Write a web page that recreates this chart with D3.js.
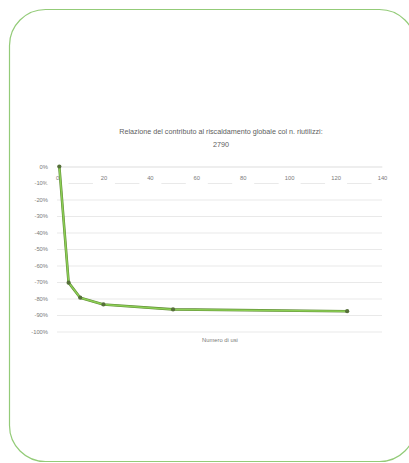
<!DOCTYPE html>
<html>
<head>
<meta charset="utf-8">
<script src="https://cdn.jsdelivr.net/npm/d3@7"></script>
<style>
  body { margin: 0; background: #fff; }
  svg { display: block; font-family: "Liberation Sans", Arial, sans-serif; }
</style>
</head>
<body>
<div id="chart"></div>
<script>
// data
const titleLines = ["Relazione del contributo al riscaldamento globale col n. riutilizzi:", "2790"];
const xLabel = "Numero di usi";
const uses = [1, 5, 10, 20, 50, 125];
const reduction = [0, -70.4, -79.5, -83.6, -86.6, -87.7];
const xTicks = [0, 20, 40, 60, 80, 100, 120, 140];
const yTicks = [0, -10, -20, -30, -40, -50, -60, -70, -80, -90, -100];

const width = 409, height = 463;
const svg = d3.select("#chart").append("svg")
    .attr("width", width)
    .attr("height", height);

// rounded frame
svg.append("rect")
    .attr("x", 9.5).attr("y", 9.5)
    .attr("width", 406).attr("height", 452)
    .attr("rx", 36).attr("ry", 36)
    .attr("fill", "none")
    .attr("stroke", "#93cb78")
    .attr("stroke-width", 1.2);

const xScale = d3.scaleLinear().domain([0, 140]).range([57, 382]);
const yScale = d3.scaleLinear().domain([-100, 0]).range([331.5, 166.5]);

// title
svg.append("g").selectAll("text")
    .data(titleLines)
    .join("text")
    .attr("x", 221)
    .attr("y", (d, i) => 134 + i * 13)
    .attr("text-anchor", "middle")
    .attr("font-size", 7.2)
    .attr("fill", "#606060")
    .text(d => d);

// gridlines + y labels
const yAxis = d3.axisLeft(yScale)
    .tickValues(yTicks)
    .tickSize(-(xScale(140) - xScale(0)))
    .tickPadding(9)
    .tickFormat(d => d + "%");

const gy = svg.append("g")
    .attr("transform", `translate(${xScale(0)},0)`)
    .call(yAxis);
gy.select(".domain").remove();
gy.selectAll(".tick line").attr("stroke", "#e3e3e3").attr("stroke-width", 0.8);
gy.selectAll(".tick text").attr("font-size", 5.8).attr("fill", "#7a7a7a").attr("font-family", "Liberation Sans, Arial, sans-serif");

// x axis along 0%
const xAxis = d3.axisBottom(xScale)
    .tickValues(xTicks)
    .tickSize(0)
    .tickPadding(9)
    .tickFormat(d3.format("d"));

const gx = svg.append("g")
    .attr("transform", `translate(0,${yScale(0)})`)
    .call(xAxis);
gx.select(".domain").attr("stroke", "#e6e6e6").attr("stroke-width", 0.8);
gx.selectAll(".tick text")
    .attr("font-size", 5.8)
    .attr("fill", "#7a7a7a")
    .attr("font-family", "Liberation Sans, Arial, sans-serif");
// white patches behind the tick labels, they sit on the -10% gridline
gx.selectAll(".tick").insert("rect", "text")
    .attr("x", -11).attr("y", 8)
    .attr("width", 22).attr("height", 10)
    .attr("fill", "#fff");

// axis title
svg.append("text")
    .attr("x", 220)
    .attr("y", 342)
    .attr("text-anchor", "middle")
    .attr("font-size", 5.8)
    .attr("fill", "#7a7a7a")
    .text(xLabel);

// series
const points = uses.map((u, i) => ({ x: u, y: reduction[i] }));

const line = d3.line()
    .x(d => xScale(d.x))
    .y(d => yScale(d.y));

svg.append("path")
    .datum(points)
    .attr("fill", "none")
    .attr("stroke", "#5f8a35")
    .attr("stroke-width", 2.6)
    .attr("stroke-linejoin", "round")
    .attr("d", line);
svg.append("path")
    .datum(points)
    .attr("fill", "none")
    .attr("stroke", "#8ccf55")
    .attr("stroke-width", 1.5)
    .attr("stroke-linejoin", "round")
    .attr("d", line);

svg.append("g").selectAll("circle")
    .data(points)
    .join("circle")
    .attr("cx", d => xScale(d.x))
    .attr("cy", d => yScale(d.y))
    .attr("r", 2.1)
    .attr("fill", "#56703a");
</script>
</body>
</html>
